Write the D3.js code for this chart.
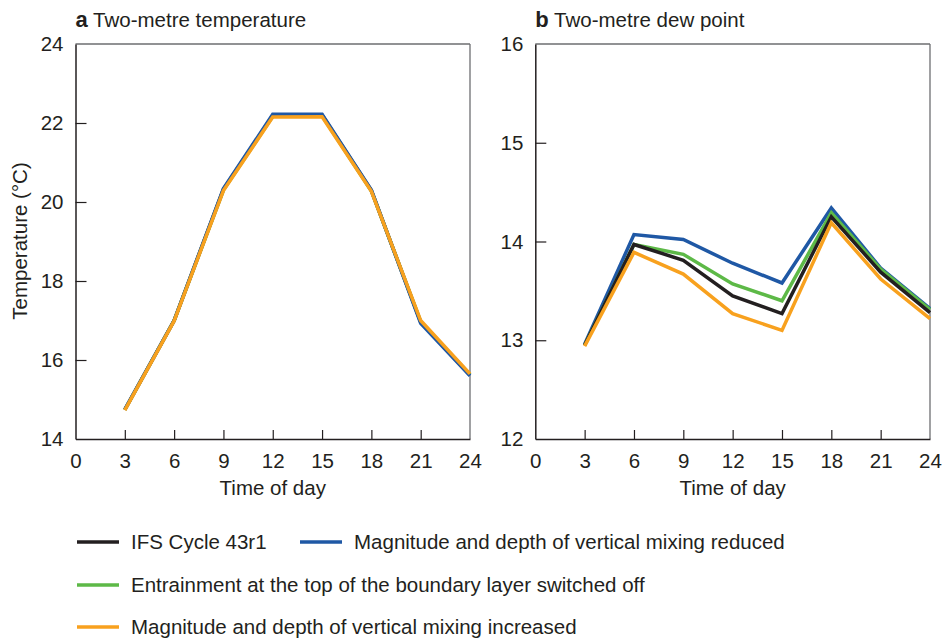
<!DOCTYPE html>
<html>
<head>
<meta charset="utf-8">
<script src="https://cdn.jsdelivr.net/npm/d3@7"></script>
<style>
  body { margin: 0; background: #fff; }
  text { font-family: "Liberation Sans", Arial, sans-serif; fill: #231f20; }
</style>
</head>
<body>
<svg width="942" height="641"></svg>
<script>
// time of day (hours)
const hours = [3, 6, 9, 12, 15, 18, 21, 24];
const xTicks = [0, 3, 6, 9, 12, 15, 18, 21, 24];

// series names + colours
const seriesNames = [
  'IFS Cycle 43r1',
  'Magnitude and depth of vertical mixing reduced',
  'Entrainment at the top of the boundary layer switched off',
  'Magnitude and depth of vertical mixing increased'
];
const seriesColors = ['#231f20', '#1f58a5', '#5db947', '#f8a11e'];

// panel a: two-metre temperature
const tempControl   = [14.74, 17.0, 20.32, 22.19, 22.2, 20.29, 16.96, 15.62];
const tempReduced   = [14.75, 17.0, 20.34, 22.22, 22.22, 20.3, 16.93, 15.6];
const tempEntrain   = [14.74, 17.0, 20.3, 22.17, 22.18, 20.28, 16.97, 15.63];
const tempIncreased = [14.73, 16.99, 20.29, 22.15, 22.16, 20.27, 17.0, 15.65];
const tempTicks = [14, 16, 18, 20, 22, 24];

// panel b: two-metre dew point
const dewControl   = [12.95, 13.97, 13.81, 13.45, 13.27, 14.25, 13.69, 13.28];
const dewReduced   = [12.96, 14.07, 14.02, 13.78, 13.58, 14.34, 13.73, 13.32];
const dewEntrain   = [12.95, 13.97, 13.87, 13.57, 13.40, 14.29, 13.72, 13.31];
const dewIncreased = [12.94, 13.89, 13.67, 13.27, 13.10, 14.19, 13.62, 13.22];
const dewTicks = [12, 13, 14, 15, 16];

const svg = d3.select('svg');
const plotTop = 44, plotBottom = 439;
const fs = 20.5;

function panel(opts) {
  const x = d3.scaleLinear().domain([0, 24]).range([opts.left, opts.right]);
  const y = d3.scaleLinear().domain(opts.yDomain).range([plotBottom, plotTop]);
  const g = svg.append('g');

  // frame: top and right lighter
  g.append('line').attr('x1', opts.left).attr('x2', opts.right).attr('y1', plotTop).attr('y2', plotTop)
    .attr('stroke', '#6d6e71').attr('stroke-width', 1.3);
  g.append('line').attr('x1', opts.right).attr('x2', opts.right).attr('y1', plotTop).attr('y2', plotBottom)
    .attr('stroke', '#6d6e71').attr('stroke-width', 1.3);

  // y axis
  const ya = g.append('g').attr('transform', `translate(${opts.left},0)`)
    .call(d3.axisLeft(y).tickValues(opts.yTicks).tickFormat(d3.format('d'))
      .tickSize(-11).tickPadding(12).tickSizeOuter(0));
  ya.select('.domain').attr('stroke', '#231f20').attr('stroke-width', 1.5);
  ya.selectAll('.tick line').attr('stroke', '#231f20').attr('stroke-width', 1.2);
  ya.selectAll('.tick text').attr('font-size', fs).attr('fill', '#231f20')
    .attr('font-family', '"Liberation Sans", Arial, sans-serif');
  ya.selectAll('.tick').filter(d => d === opts.yDomain[0] || d === opts.yDomain[1])
    .select('line').remove();

  // x axis
  const xa = g.append('g').attr('transform', `translate(0,${plotBottom})`)
    .call(d3.axisBottom(x).tickValues(xTicks).tickSize(-9).tickPadding(14).tickSizeOuter(0));
  xa.select('.domain').attr('stroke', '#231f20').attr('stroke-width', 1.5);
  xa.selectAll('.tick line').attr('stroke', '#231f20').attr('stroke-width', 1.2);
  xa.selectAll('.tick text').attr('font-size', fs).attr('fill', '#231f20')
    .attr('font-family', '"Liberation Sans", Arial, sans-serif');
  xa.selectAll('.tick').filter(d => d === 0 || d === 24).select('line').remove();

  g.append('text').attr('x', (opts.left + opts.right) / 2).attr('y', 495)
    .attr('text-anchor', 'middle').attr('font-size', fs).text('Time of day');

  // title
  const t = g.append('text').attr('x', opts.left).attr('y', 27).attr('font-size', fs);
  t.append('tspan').attr('font-weight', 'bold').attr('font-size', 22).text(opts.letter);
  t.append('tspan').text(' ' + opts.title);

  const line = d3.line().x((d, i) => x(hours[i])).y(d => y(d));
  opts.series.forEach(s => {
    g.append('path').datum(s.values).attr('d', line)
      .attr('fill', 'none').attr('stroke', s.color).attr('stroke-width', 3.5)
      .attr('stroke-linejoin', 'miter');
  });
}

panel({
  left: 75.5, right: 470, yDomain: [14, 24], yTicks: tempTicks,
  letter: 'a', title: 'Two-metre temperature',
  series: [
    { values: tempControl, color: seriesColors[0] },
    { values: tempEntrain, color: seriesColors[2] },
    { values: tempReduced, color: seriesColors[1] },
    { values: tempIncreased, color: seriesColors[3] }
  ]
});

panel({
  left: 535.3, right: 930, yDomain: [12, 16], yTicks: dewTicks,
  letter: 'b', title: 'Two-metre dew point',
  series: [
    { values: dewReduced, color: seriesColors[1] },
    { values: dewEntrain, color: seriesColors[2] },
    { values: dewControl, color: seriesColors[0] },
    { values: dewIncreased, color: seriesColors[3] }
  ]
});

// y axis label
svg.append('text').attr('transform', 'translate(27,241) rotate(-90)')
  .attr('text-anchor', 'middle').attr('font-size', fs).text('Temperature (°C)');

// legend
const legendPos = [[77, 542], [300, 542], [77, 585], [77, 627]];
const legend = svg.append('g').selectAll('g').data(seriesNames).join('g')
  .attr('transform', (d, i) => `translate(${legendPos[i][0]},${legendPos[i][1]})`);
legend.append('line').attr('x1', 0).attr('x2', 42).attr('stroke-width', 3.5)
  .attr('stroke', (d, i) => seriesColors[i]);
legend.append('text').attr('x', 54).attr('dy', '0.35em').attr('font-size', fs).text(d => d);
</script>
</body>
</html>
